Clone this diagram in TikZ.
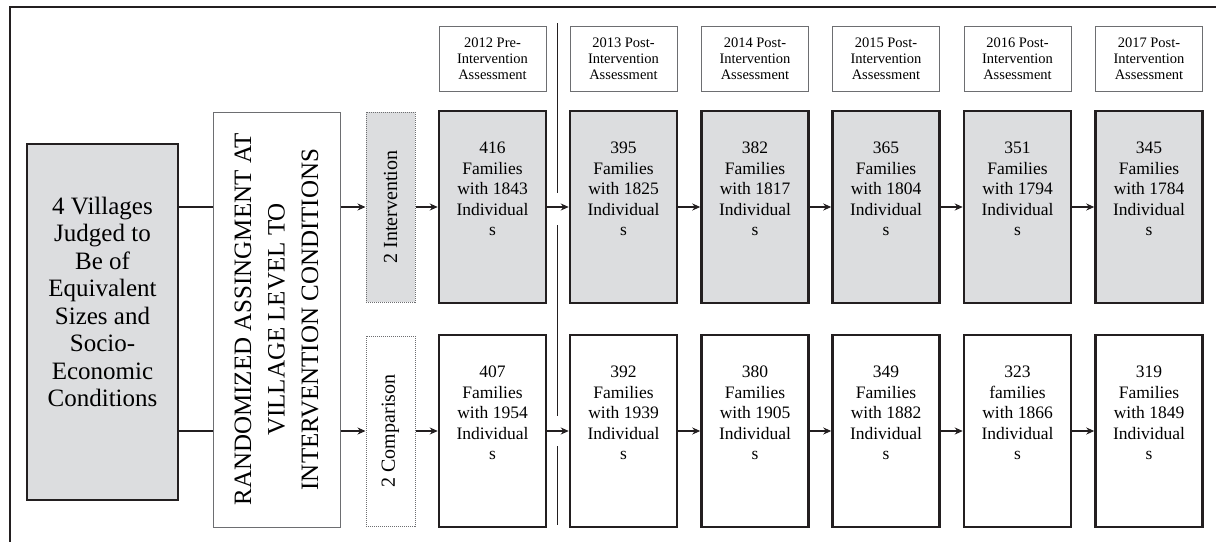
\documentclass[tikz,border=0pt]{standalone}
\usepackage{fontspec}
\setmainfont{Liberation Serif}
\usetikzlibrary{
  positioning,
  arrows.meta
}
\definecolor{shade}{HTML}{DCDDDF}
\definecolor{ink}{HTML}{231F20}
\definecolor{rule}{HTML}{6D6E71}

\begin{document}
\begin{tikzpicture}[x=1pt, y=-1pt,
  frame/.style={line width=2pt, ink},
  villbox/.style={draw=ink, line width=2.5pt, fill=shade, inner sep=0pt,
                  minimum width=151pt, minimum height=356pt},
  randbox/.style={draw=rule, line width=1pt, inner sep=0pt,
                  minimum width=127pt, minimum height=415pt},
  grpbox/.style={draw=rule, densely dotted, line width=1pt, inner sep=0pt,
                 minimum width=49pt, minimum height=190pt},
  hdr/.style={draw=rule, line width=1pt, inner sep=0pt, align=center,
              minimum width=107pt, minimum height=65pt,
              font=\fontsize{14.5}{16}\selectfont},
  fam/.style={draw=ink, line width=2.5pt, inner sep=0pt,
              minimum width=107pt, minimum height=192pt},
  famtext/.style={align=center, yshift=18pt, font=\fontsize{17.5}{20.5}\selectfont},
  arr/.style={-{Stealth[length=8pt, width=7pt]}, line width=1.5pt, ink},
  link/.style={line width=1.5pt, ink}
]
  \useasboundingbox (0,0) rectangle (1216,542);
  \draw[frame] (1216,7) -- (10,7) -- (10,542);

  % left part
  \node[villbox] (vil) at (102.5,322) {};
  \node[align=center, font=\fontsize{25}{27.5}\selectfont] (viltext) at (102.5,302)
    {4 Villages\\Judged to\\Be of\\Equivalent\\Sizes and\\Socio-\\Economic\\Conditions};

  \node[randbox] (rand) at (276.5,319.5) {};
  \node[rotate=90, align=center, font=\fontsize{25}{33.5}\selectfont] (randtext) at (rand)
    {RANDOMIZED ASSINGMENT AT\\VILLAGE LEVEL TO\\INTERVENTION CONDITIONS};

  \node[grpbox, fill=shade] (intv) at (390.5,207) {};
  \node[rotate=90, font=\fontsize{20}{24}\selectfont] at (intv) {2 Intervention};
  \node[grpbox] (comp) at (390.5,431) {};
  \node[rotate=90, font=\fontsize{20}{24}\selectfont] at (comp) {2 Comparison};

  % assessment headers
  \node[hdr] (h1) at (492.5,58.5) {2012 Pre-\\Intervention\\Assessment};
  \node[hdr] (h2) at (623.5,58.5) {2013 Post-\\Intervention\\Assessment};
  \node[hdr] (h3) at (755,58.5)   {2014 Post-\\Intervention\\Assessment};
  \node[hdr] (h4) at (886,58.5)   {2015 Post-\\Intervention\\Assessment};
  \node[hdr] (h5) at (1017.5,58.5){2016 Post-\\Intervention\\Assessment};
  \node[hdr] (h6) at (1149,58.5)  {2017 Post-\\Intervention\\Assessment};

  % intervention villages
  \node[fam, fill=shade, label={[famtext]center:416\\Families\\with 1843\\Individual\\s}] (t1) at (492.5,207) {};
  \node[fam, fill=shade, label={[famtext]center:395\\Families\\with 1825\\Individual\\s}] (t2) at (623.5,207) {};
  \node[fam, fill=shade, label={[famtext]center:382\\Families\\with 1817\\Individual\\s}] (t3) at (755,207) {};
  \node[fam, fill=shade, label={[famtext]center:365\\Families\\with 1804\\Individual\\s}] (t4) at (886,207) {};
  \node[fam, fill=shade, label={[famtext]center:351\\Families\\with 1794\\Individual\\s}] (t5) at (1017.5,207) {};
  \node[fam, fill=shade, label={[famtext]center:345\\Families\\with 1784\\Individual\\s}] (t6) at (1149,207) {};

  % comparison villages
  \node[fam, label={[famtext]center:407\\Families\\with 1954\\Individual\\s}] (b1) at (492.5,431) {};
  \node[fam, label={[famtext]center:392\\Families\\with 1939\\Individual\\s}] (b2) at (623.5,431) {};
  \node[fam, label={[famtext]center:380\\Families\\with 1905\\Individual\\s}] (b3) at (755,431) {};
  \node[fam, label={[famtext]center:349\\Families\\with 1882\\Individual\\s}] (b4) at (886,431) {};
  \node[fam, label={[famtext]center:323\\families\\with 1866\\Individual\\s}] (b5) at (1017.5,431) {};
  \node[fam, label={[famtext]center:319\\Families\\with 1849\\Individual\\s}] (b6) at (1149,431) {};

  % pre / post divider
  \draw[line width=1pt, ink] (557,23) -- (557,193);
  \draw[line width=1pt, ink] (557,225) -- (557,416);
  \draw[line width=1pt, ink] (557,446) -- (557,525);

  % connectors
  \draw[link] (vil.east |- intv) -- (rand.west |- intv);
  \draw[link] (vil.east |- comp) -- (rand.west |- comp);
  \draw[arr] (rand.east |- intv) -- (intv);
  \draw[arr] (rand.east |- comp) -- (comp);
  \draw[arr] (intv) -- (t1);
  \draw[arr] (comp) -- (b1);
  \draw[arr] (t1) -- (t2);
  \draw[arr] (t2) -- (t3);
  \draw[arr] (t3) -- (t4);
  \draw[arr] (t4) -- (t5);
  \draw[arr] (t5) -- (t6);
  \draw[arr] (b1) -- (b2);
  \draw[arr] (b2) -- (b3);
  \draw[arr] (b3) -- (b4);
  \draw[arr] (b4) -- (b5);
  \draw[arr] (b5) -- (b6);
\end{tikzpicture}
\end{document}
